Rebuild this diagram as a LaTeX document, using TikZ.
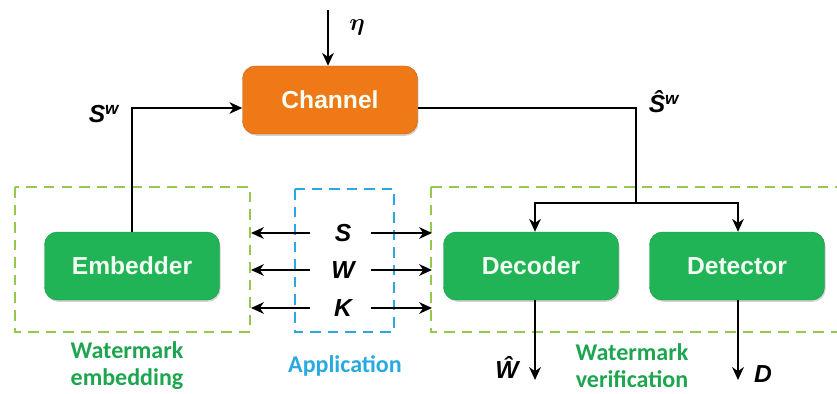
\documentclass[tikz,border=0pt]{standalone}
\usepackage{amsmath, amssymb}
\usepackage{fontspec}
\usepackage{xcolor}
\usepackage{tikz}
\usetikzlibrary{arrows.meta, shadows}

\newfontfamily\arialfont{Liberation Sans}
\newfontfamily\califont{Carlito}
\newcommand{\sym}[1]{{\arialfont\bfseries\itshape #1}}

\definecolor{chanorange}{RGB}{238,121,22}
\definecolor{blockgreen}{RGB}{32,180,86}
\definecolor{labelgreen}{RGB}{30,165,80}
\definecolor{zonegreen}{RGB}{150,200,80}
\definecolor{zoneblue}{RGB}{40,170,225}

\begin{document}
\begin{tikzpicture}%
                    [x=0.03cm, y=-0.03cm,
                    block/.style={rounded corners=11pt, minimum width=175*0.03cm,
                                  minimum height=68*0.03cm, text=white!95!green,
                                  font=\arialfont\bfseries\fontsize{21}{24}\selectfont,
                                  drop shadow={opacity=0.35, shadow xshift=1pt, shadow yshift=-1.5pt}},
                    greenblock/.style={block, fill=blockgreen, draw=blockgreen!85!black, thin},
                    sig/.style={draw=black, line width=1.4pt, -{Stealth[length=11pt, width=10pt, inset=3.5pt]}},
                    zone/.style={line width=2pt, dash pattern=on 9pt off 6pt},
                    sym/.style={font=\fontsize{21}{24}\selectfont},
                    caption/.style={font=\califont\bfseries\fontsize{20.5}{23}\selectfont, align=center}]
                \useasboundingbox (0,0) rectangle (837,394);
                %% Dashed zones
                \draw[zone, zonegreen] (15,187) rectangle (250,332);
                \draw[zone, zonegreen] (431,187) -- (837,187);
                \draw[zone, zonegreen] (431,187) -- (431,332) -- (837,332);
                \draw[zone, zoneblue] (295,189) rectangle (394,332);
                %%
                %% Blocks
                %%
                \node[block, fill=chanorange, draw=chanorange!85!black, thin] (chan) at (330,100) {Channel};
                \node[greenblock] (emb) at (132,266) {Embedder};
                \node[greenblock] (dec) at (531,266) {Decoder};
                \node[greenblock] (det) at (737,266) {Detector};
                %% Helper points
                \coordinate (noise) at (328,10);
                \coordinate (swout) at (636,108);
                \coordinate (split) at (636,203);
                \coordinate (wout) at (535,380);
                \coordinate (dout) at (738,380);
                %% Signal paths
                \draw[sig] (noise) -- (chan.north -| noise);
                \node[sym] (eta) at (357,27) {$\boldsymbol{\eta}$};
                \draw[sig] (emb.north) |- (chan.west |- 0,108);
                \node[sym] (sw) at (104,114) {\sym{S\textsuperscript{w}}};
                \draw[line width=1.4pt] (chan.east |- swout) -- (swout) -- (split);
                \node[sym] (shw) at (664,102) {\sym{Ŝ\textsuperscript{w}}};
                \draw[sig] (split) -| (dec.north -| 535,0);
                \draw[sig] (split) -| (det.north -| 738,0);
                \draw[sig] (dec.south -| wout) -- (wout);
                \draw[sig] (det.south -| dout) -- (dout);
                \node[sym] (what) at (507,367) {\sym{Ŵ}};
                \node[sym] (dlab) at (763,374) {\sym{D}};
                %% Application side information
                \foreach \name/\ypos in {S/233, W/270, K/308}{
                  \node[sym] (app\name) at (343,\ypos) {\sym{\name}};
                  \draw[sig] (310,\ypos) -- (251,\ypos);
                  \draw[sig] (371,\ypos) -- (432,\ypos);
                }
                %% Captions
                \node[caption, text=labelgreen] (cemb) at (127,366) {Watermark\\embedding};
                \node[caption, text=zoneblue] (capp) at (345,366) {Application};
                \node[caption, text=labelgreen] (cver) at (632,366) {Watermark\\verification};
                \end{tikzpicture}
\end{document}
